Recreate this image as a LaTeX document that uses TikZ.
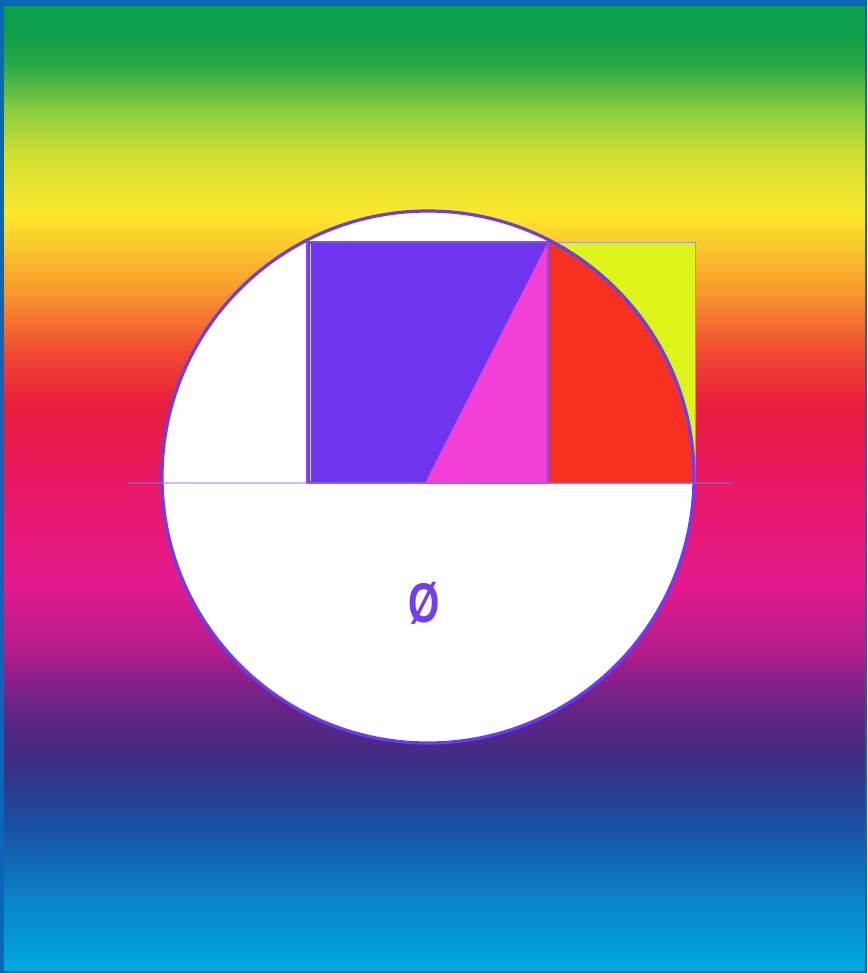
\documentclass[tikz,border=0pt]{standalone}
\usepackage{fontspec}
\setmainfont{Liberation Sans}
\definecolor{frameblue}{RGB}{10,102,184}
\definecolor{g1}{RGB}{10,158,74}
\definecolor{g2}{RGB}{40,168,72}
\definecolor{g3}{RGB}{140,206,62}
\definecolor{g4}{RGB}{210,224,50}
\definecolor{g5}{RGB}{252,232,45}
\definecolor{g6}{RGB}{248,150,45}
\definecolor{g7}{RGB}{240,72,50}
\definecolor{g8}{RGB}{232,30,60}
\definecolor{g9}{RGB}{232,25,100}
\definecolor{g10}{RGB}{228,25,140}
\definecolor{g11}{RGB}{180,30,140}
\definecolor{g12}{RGB}{110,35,135}
\definecolor{g13}{RGB}{60,45,130}
\definecolor{g14}{RGB}{28,75,160}
\definecolor{g15}{RGB}{10,130,200}
\definecolor{g16}{RGB}{0,168,224}
\definecolor{sqpurple}{RGB}{110,52,238}
\definecolor{sqedge}{RGB}{125,80,245}
\definecolor{tripink}{RGB}{242,63,214}
\definecolor{redq}{RGB}{245,48,30}
\definecolor{yelrect}{RGB}{222,245,28}
\definecolor{circedge}{RGB}{106,60,245}
\definecolor{linelav}{RGB}{140,112,240}
\definecolor{symcol}{RGB}{112,64,240}
\pgfdeclareverticalshading{rainbow}{100bp}{%
color(0bp)=(g16);
color(25bp)=(g16);
color(28.75bp)=(g15);
color(32.86bp)=(g14);
color(35.94bp)=(g13);
color(39.05bp)=(g12);
color(41.6bp)=(g11);
color(45.2bp)=(g10);
color(50.3bp)=(g9);
color(54.4bp)=(g8);
color(57.0bp)=(g7);
color(60.1bp)=(g6);
color(64.2bp)=(g5);
color(67.3bp)=(g4);
color(69.6bp)=(g3);
color(72.0bp)=(g2);
color(73.8bp)=(g1);
color(75bp)=(g1);
color(100bp)=(g1)}
\begin{document}
\begin{tikzpicture}[x=1pt,y=-1pt,
  sqstyle/.style={fill=sqpurple,draw=sqedge,line width=2.2pt},
  tristyle/.style={fill=tripink},
  yelstyle/.style={fill=yelrect,draw=gray!70!blue!60,line width=0.9pt},
  circstyle/.style={draw=circedge,line width=3.2pt},
  axisline/.style={draw=linelav,opacity=0.45,line width=1.6pt}]
\useasboundingbox (0,0) rectangle (867,973);
\fill[frameblue] (0,0) rectangle (867,973);
\shade[shading=rainbow] (4,7) rectangle (865,970);
% circle
\coordinate (c) at (428,477);
\fill[white] (c) circle[radius=266];
% yellow rectangle
\path[yelstyle] (548,242) rectangle (695,483);
% red quarter region
\begin{scope}
\clip (c) circle[radius=266];
\fill[redq] (548,230) rectangle (700,483);
\end{scope}
% square
\path[sqstyle] (307,242) rectangle (548,483);
\draw[white,opacity=0.8,line width=0.8pt] (310.5,244) -- (310.5,481);
% triangle
\coordinate (m) at (425,483);
\coordinate (tr) at (548,242);
\coordinate (br) at (548,483);
\path[tristyle] (m) -- (tr) -- (br) -- cycle;
\draw[sqedge,line width=1.5pt] (tr) -- (br);
% circle outline
\draw[circstyle] (c) circle[radius=266];
% horizontal line
\coordinate (la) at (128,483);
\coordinate (lb) at (733,483);
\draw[axisline] (la) -- (lb);
% symbol
\node[text=symcol,font=\bfseries\fontsize{56}{56}\selectfont,xscale=0.72,inner sep=0] (sym) at (424,603) {Ø};
\end{tikzpicture}
\end{document}
